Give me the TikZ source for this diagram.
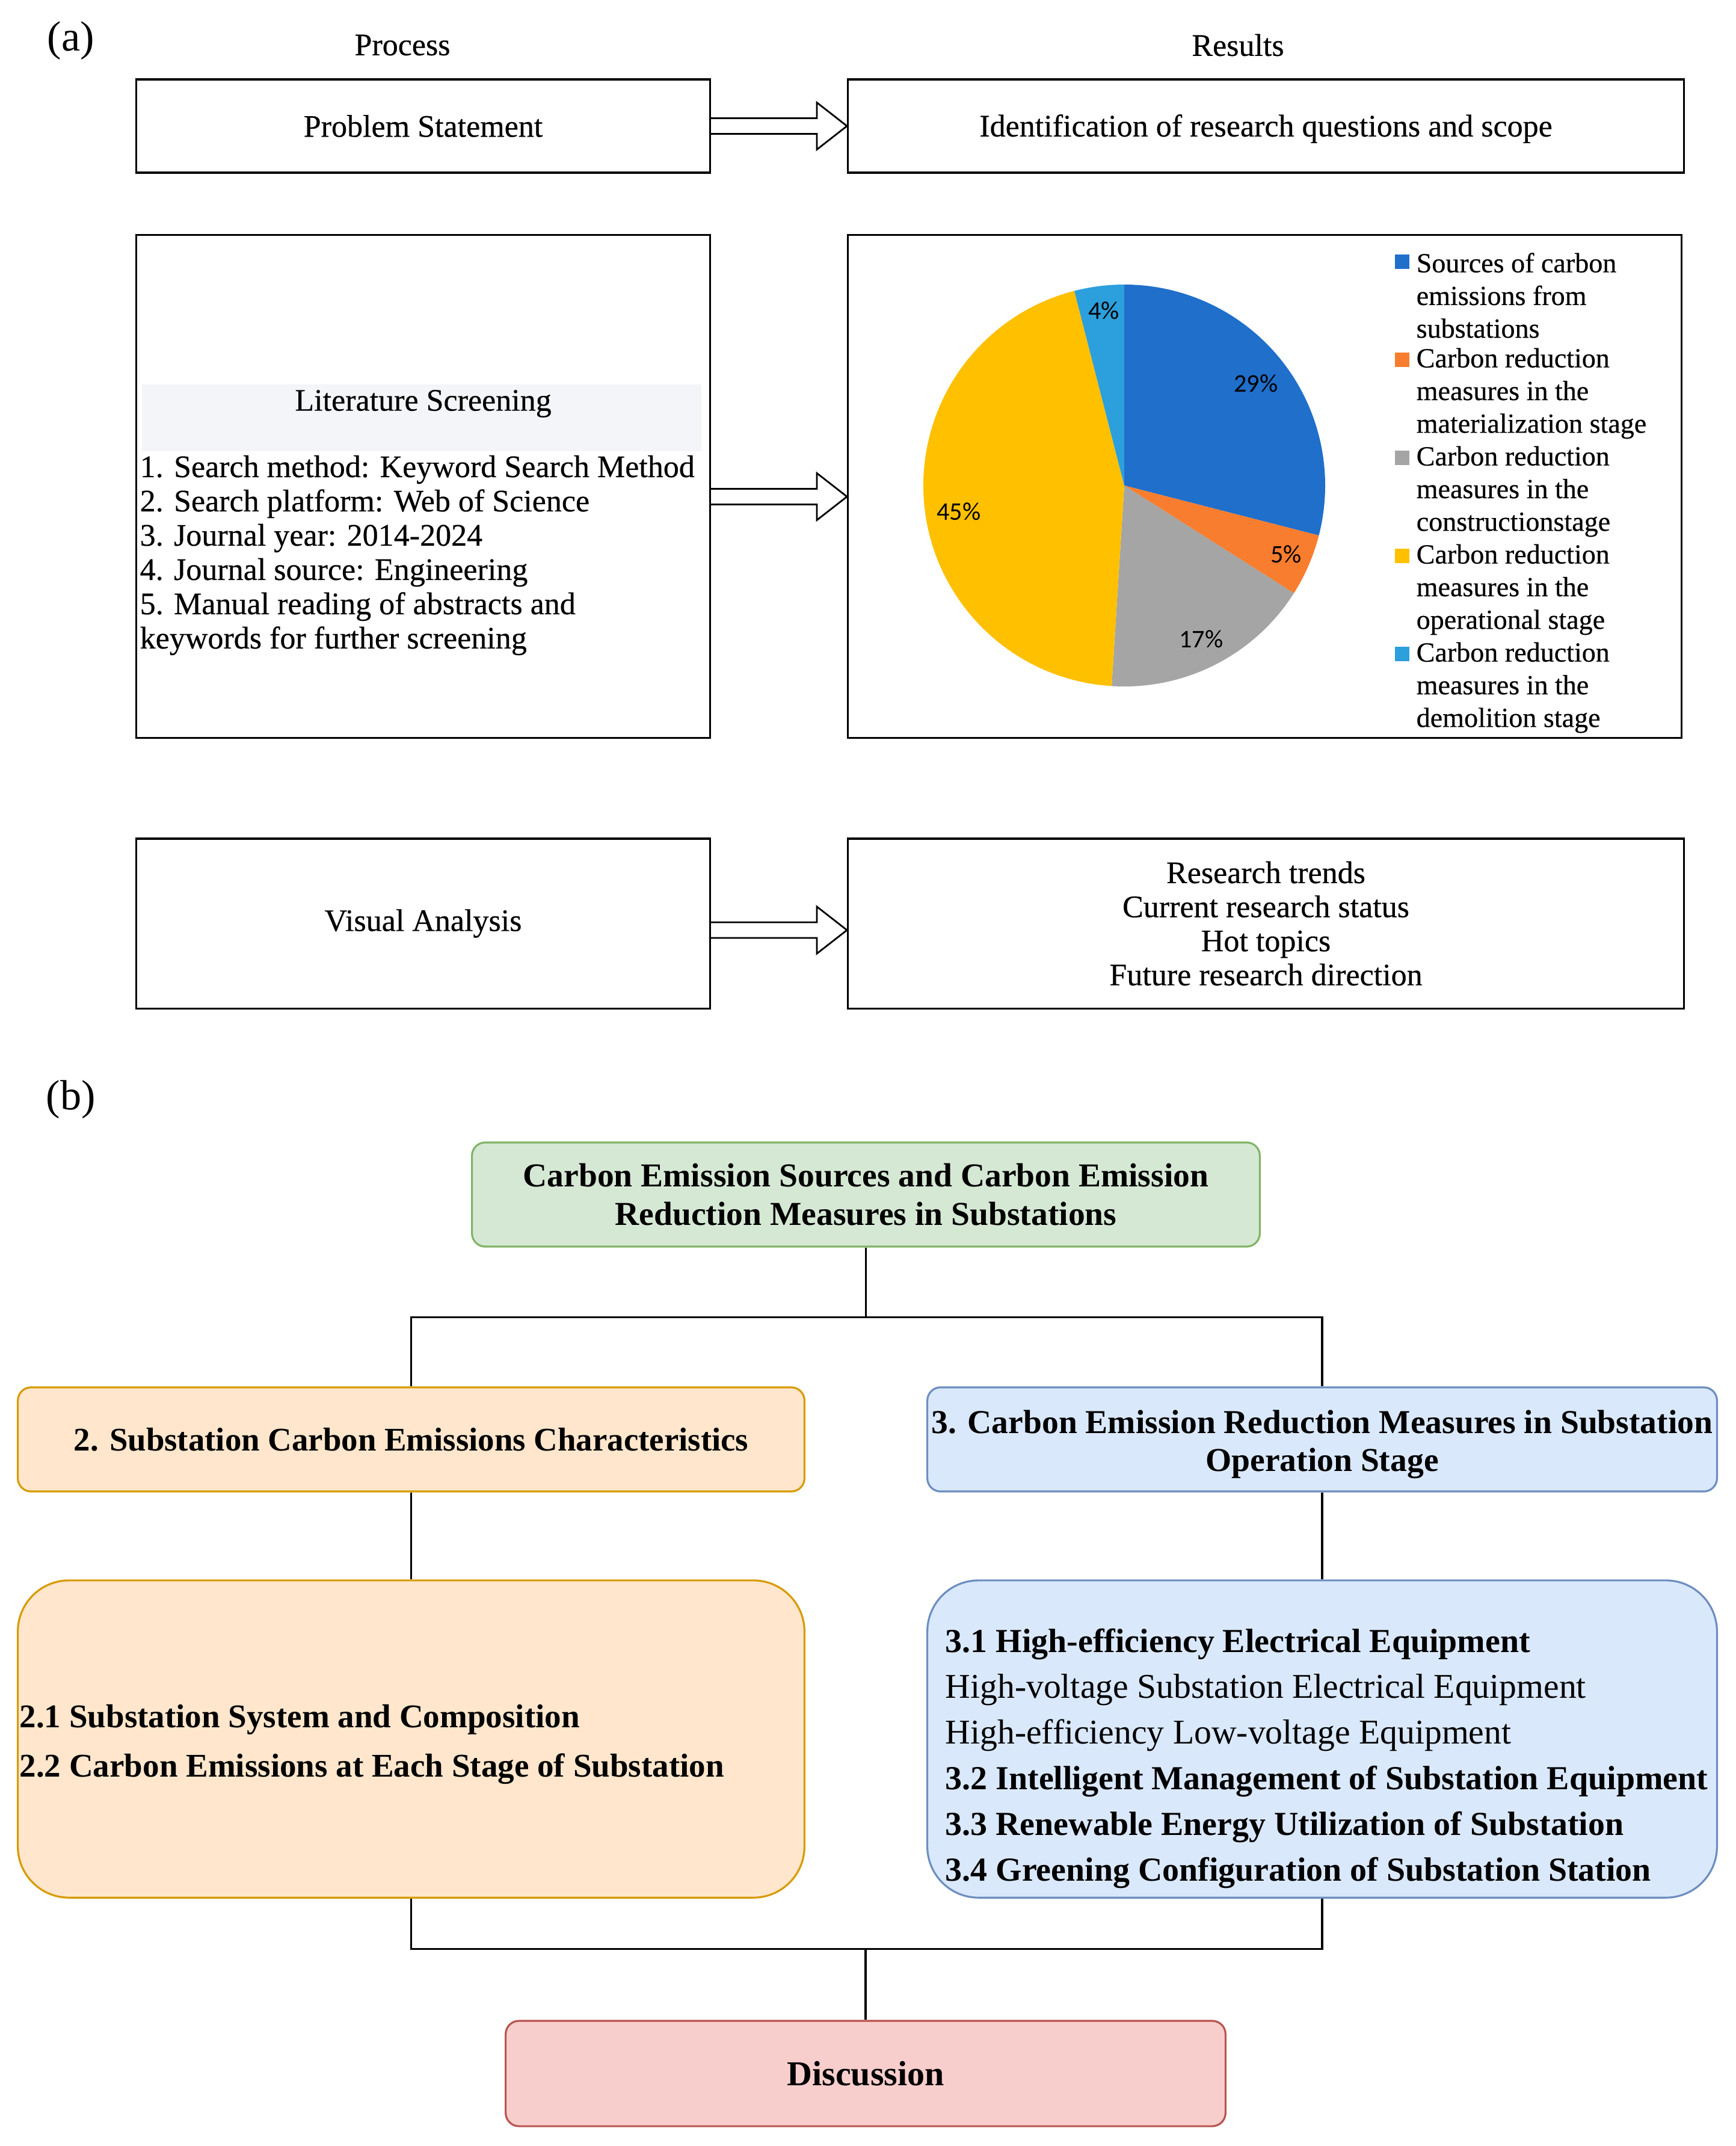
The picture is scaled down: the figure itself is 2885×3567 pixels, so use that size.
\documentclass[tikz,border=0pt]{standalone}
\usepackage{fontspec}
\setmainfont{Liberation Serif}
\newfontfamily\medfont{Liberation Serif}[FakeBold=0.4]
\newfontfamily\calibfont{Carlito}
\usetikzlibrary{calc}
\definecolor{gfill}{HTML}{D5E8D4}
\definecolor{gline}{HTML}{82B366}
\definecolor{ofill}{HTML}{FFE6CC}
\definecolor{oline}{HTML}{D79B00}
\definecolor{bfill}{HTML}{DAE8FC}
\definecolor{bline}{HTML}{6C8EBF}
\definecolor{rfill}{HTML}{F8CECC}
\definecolor{rline}{HTML}{B85450}
\definecolor{pblue}{HTML}{1F6FCB}
\definecolor{porange}{HTML}{F97D2E}
\definecolor{pgray}{HTML}{A5A5A5}
\definecolor{pyellow}{HTML}{FFC000}
\definecolor{plblue}{HTML}{2C9FDD}
\definecolor{band}{HTML}{F3F5F8}
\newcommand\fatarrow[3]{%
  \coordinate (fa1) at ($(#1.east)+(0,#3)$);
  \coordinate (fa2) at ($(#2.west)+(0,#3)$);
  \draw[farrow] ($(fa1)+(0,-13)$) -- ($(fa2)+(-50,-13)$) -- ($(fa2)+(-50,-39)$) -- (fa2) -- ($(fa2)+(-50,39)$) -- ($(fa2)+(-50,13)$) -- ($(fa1)+(0,13)$);}
\begin{document}
\begin{tikzpicture}[x=0.01cm,y=-0.01cm,
  abox/.style={draw, line width=0.9pt, inner sep=0pt},
  afont/.style={font=\medfont\fontsize{14.8}{16.1}\selectfont},
  bbox/.style={draw, line width=0.9pt, rounded corners=0.22cm, inner sep=0pt, align=center, font=\bfseries\fontsize{15.8}{18.1}\selectfont},
  btxt/.style={inner sep=0pt, align=center, font=\bfseries\fontsize{15.8}{18.1}\selectfont},
  farrow/.style={draw, line width=0.8pt, line join=miter},
  conn/.style={line width=1pt},
  lbl/.style={font=\fontsize{20}{22}\selectfont},
  pct/.style={font=\calibfont\fontsize{12}{14}\selectfont},
  leg/.style={anchor=west, inner sep=0pt, align=left, font=\medfont\fontsize{13.1}{15.45}\selectfont},
  sq/.style={minimum size=0.24cm, inner sep=0pt}]
\useasboundingbox (0,0) rectangle (2885,3567);
\fill[white] (0,0) rectangle (2885,3567);

% ---------------- (a)
\node[lbl] (la) at (118,68) {(a)};
\node[afont] (proc) at (669,75) {Process};
\node[afont] (res) at (2058,75) {Results};

\node[abox,afont,minimum width=9.53cm,minimum height=1.55cm] (ps) at (703.5,209.5) {Problem Statement};
\node[abox,minimum width=13.89cm,minimum height=1.55cm] (id) at (2104.5,209.5) {};
\node[afont] (idt) at (2104.5,214) {Identification of research questions and scope};

\node[abox,minimum width=9.53cm,minimum height=8.35cm] (ls) at (703.5,808.5) {};
\fill[band] (236,639) rectangle (1166,750);
\node[afont] (lst) at (703.5,671) {Literature Screening};
\node[anchor=west,align=left,inner sep=0pt,font=\medfont\fontsize{14.8}{16.2}\selectfont] (lsl) at (232,923) {1. Search method: Keyword Search Method\\2. Search platform: Web of Science\\3. Journal year: 2014-2024\\4. Journal source: Engineering\\5. Manual reading of abstracts and\\keywords for further screening};

\node[abox,minimum width=13.85cm,minimum height=8.35cm] (pie) at (2102.5,808.5) {};
\coordinate (pc) at (1869,807);
\begin{scope}[shift={(pc)},y=0.01cm]
  \fill[pblue] (0,0) -- (90:334) arc[start angle=90,end angle=-14.4,radius=334] -- cycle;
  \fill[porange] (0,0) -- (-14.4:334) arc[start angle=-14.4,end angle=-32.4,radius=334] -- cycle;
  \fill[pgray] (0,0) -- (-32.4:334) arc[start angle=-32.4,end angle=-93.6,radius=334] -- cycle;
  \fill[pyellow] (0,0) -- (-93.6:334) arc[start angle=-93.6,end angle=-255.6,radius=334] -- cycle;
  \fill[plblue] (0,0) -- (-255.6:334) arc[start angle=-255.6,end angle=-270,radius=334] -- cycle;
\end{scope}
\node[pct] (p29) at (2088,637) {29\%};
\node[pct] (p5) at (2138,921) {5\%};
\node[pct] (p17) at (1997,1062) {17\%};
\node[pct] (p45) at (1594,850) {45\%};
\node[pct] (p4) at (1835,516) {4\%};

\node[sq,fill=pblue] (q1) at (2331,435) {};
\node[leg] (l1) at (2354,491) {Sources of carbon\\emissions from\\substations};
\node[sq,fill=porange] (q2) at (2331,598) {};
\node[leg] (l2) at (2354,654) {Carbon reduction\\measures in the\\materialization stage};
\node[sq,fill=pgray] (q3) at (2331,761) {};
\node[leg] (l3) at (2354,817) {Carbon reduction\\measures in the\\constructionstage};
\node[sq,fill=pyellow] (q4) at (2331,924) {};
\node[leg] (l4) at (2354,980) {Carbon reduction\\measures in the\\operational stage};
\node[sq,fill=plblue] (q5) at (2331,1087) {};
\node[leg] (l5) at (2354,1143) {Carbon reduction\\measures in the\\demolition stage};

\node[abox,afont,minimum width=9.53cm,minimum height=2.82cm] (va) at (703.5,1535) {Visual Analysis};
\node[abox,align=center,minimum width=13.89cm,minimum height=2.82cm,font=\medfont\fontsize{14.8}{16.1}\selectfont] (rt) at (2104.5,1535) {Research trends\\Current research status\\Hot topics\\Future research direction};

\fatarrow{ps}{id}{0}
\fatarrow{ls}{pie}{17}
\fatarrow{va}{rt}{11}

% ---------------- (b)
\node[lbl] (lb) at (118,1828) {(b)};
\node[bbox,fill=gfill,draw=gline,minimum width=13.09cm,minimum height=1.73cm] (top) at (1439.5,1985.5) {Carbon Emission Sources and Carbon Emission\\Reduction Measures in Substations};
\node[bbox,fill=ofill,draw=oline,minimum width=13.07cm,minimum height=1.73cm,font=\bfseries\fontsize{15.6}{18.1}\selectfont] (s2) at (683.5,2392.5) {2. Substation Carbon Emissions Characteristics};
\node[bbox,fill=bfill,draw=bline,minimum width=13.12cm,minimum height=1.73cm] (s3) at (2198,2392.5) {};
\node[btxt] (s3l) at (2198,2401) {3. Carbon Emission Reduction Measures in Substation\\Operation Stage};
\node[bbox,rounded corners=0.85cm,fill=ofill,draw=oline,minimum width=13.07cm,minimum height=5.27cm] (s2d) at (683.5,2890.5) {};
\node[anchor=west,align=left,inner sep=0pt,font=\bfseries\fontsize{15.65}{23.3}\selectfont] (s2t) at (32,2899) {2.1 Substation System and Composition\\2.2 Carbon Emissions at Each Stage of Substation};
\node[bbox,rounded corners=0.85cm,fill=bfill,draw=bline,minimum width=13.12cm,minimum height=5.27cm] (s3d) at (2198,2890.5) {};
\node[anchor=west,align=left,inner sep=0pt,font=\fontsize{16.4}{21.6}\selectfont] (s3t) at (1571,2923) {\fontsize{15.9}{21.6}\selectfont\textbf{3.1 High-efficiency Electrical Equipment}\\High-voltage Substation Electrical Equipment\\High-efficiency Low-voltage Equipment\\\fontsize{15.9}{21.6}\selectfont\textbf{3.2 Intelligent Management of Substation Equipment}\\\fontsize{15.9}{21.6}\selectfont\textbf{3.3 Renewable Energy Utilization of Substation}\\\fontsize{15.9}{21.6}\selectfont\textbf{3.4 Greening Configuration of Substation Station}};
\node[bbox,fill=rfill,draw=rline,minimum width=11.96cm,minimum height=1.75cm,font=\bfseries\fontsize{16.5}{19}\selectfont] (disc) at (1439,3446.5) {Discussion};

\coordinate (j1) at ($(top.south)+(0,116)$);
\draw[conn] (top.south) -- (j1);
\draw[conn] (s2.north) |- (j1) -| (s3.north);
\draw[conn] (s2.south) -- (s2d.north);
\draw[conn] (s3.south) -- (s3d.north);
\coordinate (j2) at ($(disc.north)+(0,-118)$);
\draw[conn] (s2d.south) |- (j2) -| (s3d.south);
\draw[conn] (j2) -- (disc.north);
\end{tikzpicture}
\end{document}
